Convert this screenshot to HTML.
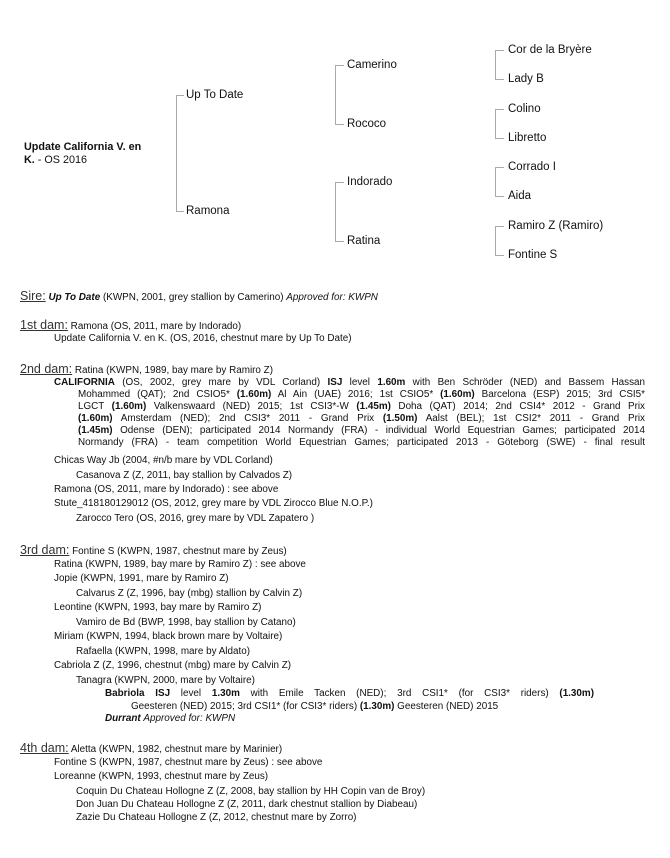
<!DOCTYPE html>
<html><head><meta charset="utf-8"><style>
body{margin:0;width:670px;height:858px;background:#fff;position:relative;font-family:"Liberation Sans",sans-serif;color:#111;overflow:hidden}
.a{position:absolute;white-space:nowrap;line-height:12px}
.t{font-size:11.5px;line-height:14px}
.s{font-size:9.9px}
.h{font-size:12.5px;text-decoration:underline;color:#333}
.j{text-align:justify;text-align-last:justify;white-space:nowrap}
.l{position:absolute;background:#aaa}
</style></head><body>
<div class="a t" style="left:24px;top:140px;font-weight:bold;font-size:10.8px">Update California V. en</div>
<div class="a t" style="left:24px;top:153px;font-size:10.8px"><b>K.</b> - OS 2016</div>
<!-- gen1 -->
<div class="l" style="left:176px;top:95px;width:1px;height:117px"></div>
<div class="l" style="left:176px;top:95px;width:8px;height:1px"></div>
<div class="l" style="left:176px;top:211px;width:8px;height:1px"></div>
<div class="a t" style="left:186px;top:88px">Up To Date</div>
<div class="a t" style="left:186px;top:204px">Ramona</div>
<!-- gen2 -->
<div class="l" style="left:335px;top:65px;width:1px;height:60px"></div>
<div class="l" style="left:335px;top:65px;width:9px;height:1px"></div>
<div class="l" style="left:335px;top:124px;width:9px;height:1px"></div>
<div class="l" style="left:335px;top:182px;width:1px;height:60px"></div>
<div class="l" style="left:335px;top:182px;width:9px;height:1px"></div>
<div class="l" style="left:335px;top:241px;width:9px;height:1px"></div>
<div class="a t" style="left:347px;top:58px">Camerino</div>
<div class="a t" style="left:347px;top:117px">Rococo</div>
<div class="a t" style="left:347px;top:175px">Indorado</div>
<div class="a t" style="left:347px;top:234px">Ratina</div>
<!-- gen3 -->
<div class="l" style="left:495px;top:50px;width:1px;height:30px"></div>
<div class="l" style="left:495px;top:50px;width:9px;height:1px"></div>
<div class="l" style="left:495px;top:79px;width:9px;height:1px"></div>
<div class="l" style="left:495px;top:109px;width:1px;height:30px"></div>
<div class="l" style="left:495px;top:109px;width:9px;height:1px"></div>
<div class="l" style="left:495px;top:138px;width:9px;height:1px"></div>
<div class="l" style="left:495px;top:167px;width:1px;height:30px"></div>
<div class="l" style="left:495px;top:167px;width:9px;height:1px"></div>
<div class="l" style="left:495px;top:196px;width:9px;height:1px"></div>
<div class="l" style="left:495px;top:226px;width:1px;height:30px"></div>
<div class="l" style="left:495px;top:226px;width:9px;height:1px"></div>
<div class="l" style="left:495px;top:255px;width:9px;height:1px"></div>
<div class="a t" style="left:508px;top:43px">Cor de la Bryère</div>
<div class="a t" style="left:508px;top:72px">Lady B</div>
<div class="a t" style="left:508px;top:102px">Colino</div>
<div class="a t" style="left:508px;top:131px">Libretto</div>
<div class="a t" style="left:508px;top:160px">Corrado I</div>
<div class="a t" style="left:508px;top:189px">Aida</div>
<div class="a t" style="left:508px;top:219px">Ramiro Z (Ramiro)</div>
<div class="a t" style="left:508px;top:248px">Fontine S</div>

<div class="a s" style="left:20px;top:290px"><span class="h">Sire:</span> <b><i>Up To Date</i></b> (KWPN, 2001, grey stallion by Camerino) <i>Approved for: KWPN</i></div>
<div class="a s" style="left:20px;top:319px"><span class="h">1st dam:</span> Ramona (OS, 2011, mare by Indorado)</div>
<div class="a s" style="left:54px;top:333px">Update California V. en K. (OS, 2016, chestnut mare by Up To Date)</div>
<div class="a s" style="left:20px;top:363px"><span class="h">2nd dam:</span> Ratina (KWPN, 1989, bay mare by Ramiro Z)</div>
<div class="a s j" style="left:54px;top:377px;width:591px"><b>CALIFORNIA</b> (OS, 2002, grey mare by VDL Corland) <b>ISJ</b> level <b>1.60m</b> with Ben Schröder (NED) and Bassem Hassan</div>
<div class="a s j" style="left:78px;top:389px;width:567px">Mohammed (QAT); 2nd CSIO5* <b>(1.60m)</b> Al Ain (UAE) 2016; 1st CSIO5* <b>(1.60m)</b> Barcelona (ESP) 2015; 3rd CSI5*</div>
<div class="a s j" style="left:78px;top:401px;width:567px">LGCT <b>(1.60m)</b> Valkenswaard (NED) 2015; 1st CSI3*-W <b>(1.45m)</b> Doha (QAT) 2014; 2nd CSI4* 2012 - Grand Prix</div>
<div class="a s j" style="left:78px;top:413px;width:567px"><b>(1.60m)</b> Amsterdam (NED); 2nd CSI3* 2011 - Grand Prix <b>(1.50m)</b> Aalst (BEL); 1st CSI2* 2011 - Grand Prix</div>
<div class="a s j" style="left:78px;top:425px;width:567px"><b>(1.45m)</b> Odense (DEN); participated 2014 Normandy (FRA) - individual World Equestrian Games; participated 2014</div>
<div class="a s j" style="left:78px;top:437px;width:567px">Normandy (FRA) - team competition World Equestrian Games; participated 2013 - Göteborg (SWE) - final result</div>
<div class="a s" style="left:54px;top:455px">Chicas Way Jb (2004, #n/b mare by VDL Corland)</div>
<div class="a s" style="left:76px;top:470px">Casanova Z (Z, 2011, bay stallion by Calvados Z)</div>
<div class="a s" style="left:54px;top:484px">Ramona (OS, 2011, mare by Indorado) : see above</div>
<div class="a s" style="left:54px;top:498px">Stute_418180129012 (OS, 2012, grey mare by VDL Zirocco Blue N.O.P.)</div>
<div class="a s" style="left:76px;top:513px">Zarocco Tero (OS, 2016, grey mare by VDL Zapatero )</div>

<div class="a s" style="left:20px;top:544px"><span class="h">3rd dam:</span> Fontine S (KWPN, 1987, chestnut mare by Zeus)</div>
<div class="a s" style="left:54px;top:559px">Ratina (KWPN, 1989, bay mare by Ramiro Z) : see above</div>
<div class="a s" style="left:54px;top:573px">Jopie (KWPN, 1991, mare by Ramiro Z)</div>
<div class="a s" style="left:76px;top:588px">Calvarus Z (Z, 1996, bay (mbg) stallion by Calvin Z)</div>
<div class="a s" style="left:54px;top:602px">Leontine (KWPN, 1993, bay mare by Ramiro Z)</div>
<div class="a s" style="left:76px;top:617px">Vamiro de Bd (BWP, 1998, bay stallion by Catano)</div>
<div class="a s" style="left:54px;top:631px">Miriam (KWPN, 1994, black brown mare by Voltaire)</div>
<div class="a s" style="left:76px;top:646px">Rafaella (KWPN, 1998, mare by Aldato)</div>
<div class="a s" style="left:54px;top:660px">Cabriola Z (Z, 1996, chestnut (mbg) mare by Calvin Z)</div>
<div class="a s" style="left:76px;top:675px">Tanagra (KWPN, 2000, mare by Voltaire)</div>
<div class="a s j" style="left:105px;top:688px;width:489px"><b>Babriola</b> <b>ISJ</b> level <b>1.30m</b> with Emile Tacken (NED); 3rd CSI1* (for CSI3* riders) <b>(1.30m)</b></div>
<div class="a s" style="left:131px;top:701px">Geesteren (NED) 2015; 3rd CSI1* (for CSI3* riders) <b>(1.30m)</b> Geesteren (NED) 2015</div>
<div class="a s" style="left:105px;top:713px"><b><i>Durrant</i></b> <i>Approved for: KWPN</i></div>

<div class="a s" style="left:20px;top:742px"><span class="h">4th dam:</span> Aletta (KWPN, 1982, chestnut mare by Marinier)</div>
<div class="a s" style="left:54px;top:757px">Fontine S (KWPN, 1987, chestnut mare by Zeus) : see above</div>
<div class="a s" style="left:54px;top:771px">Loreanne (KWPN, 1993, chestnut mare by Zeus)</div>
<div class="a s" style="left:76px;top:786px">Coquin Du Chateau Hollogne Z (Z, 2008, bay stallion by HH Copin van de Broy)</div>
<div class="a s" style="left:76px;top:799px">Don Juan Du Chateau Hollogne Z (Z, 2011, dark chestnut stallion by Diabeau)</div>
<div class="a s" style="left:76px;top:812px">Zazie Du Chateau Hollogne Z (Z, 2012, chestnut mare by Zorro)</div>
</body></html>
